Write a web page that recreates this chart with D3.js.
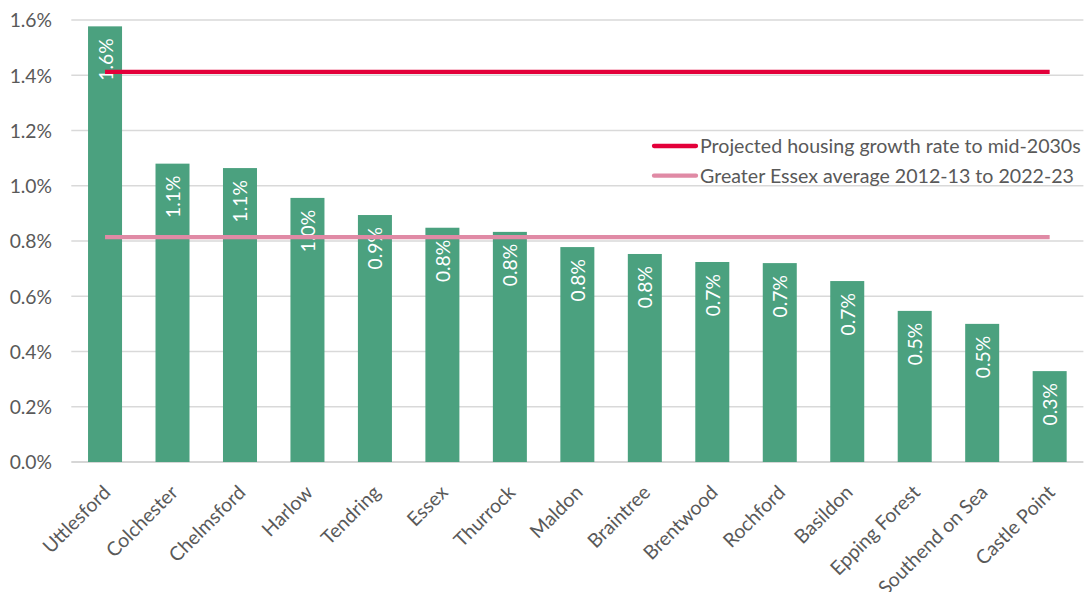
<!DOCTYPE html>
<html><head><meta charset="utf-8">
<script src="https://cdn.jsdelivr.net/npm/d3@7"></script>
<style>body{margin:0;background:#fff;} text{font-family:Lato, "Open Sans", sans-serif;}</style>
</head><body>
<svg id="c" width="1086" height="592"></svg>
<script>
const categories = ["Uttlesford","Colchester","Chelmsford","Harlow","Tendring","Essex","Thurrock","Maldon","Braintree","Brentwood","Rochford","Basildon","Epping Forest","Southend on Sea","Castle Point"];
const growthRates = [1.577,1.080,1.064,0.956,0.894,0.848,0.833,0.778,0.753,0.724,0.720,0.655,0.547,0.500,0.329];
const projectedRate = 1.412;
const essexAverage = 0.814;
const yTicks = [0,0.2,0.4,0.6,0.8,1.0,1.2,1.4,1.6];
const legendLabels = ["Projected housing growth rate to mid-2030s","Greater Essex average 2012-13 to 2022-23"];

(function(){
const svg = d3.select("#c");
const pl = 71.3, pr = 1083.4, pt = 20, pb = 462;
const x = d3.scaleBand().domain(categories).range([pl,pr]).paddingInner(0.496).paddingOuter(0.248);
const y = d3.scaleLinear().domain([0,1.6]).range([pb,pt]);
const txt = "#595959";

// gridlines
svg.append("g").selectAll("line").data(yTicks).join("line")
  .attr("x1",pl).attr("x2",pr).attr("y1",d=>y(d)).attr("y2",d=>y(d))
  .attr("stroke",d=>d===0?"#c8c8c8":"#d9d9d9").attr("stroke-width",1.3);

// y axis labels
const yAxis = d3.axisLeft(y).tickValues(yTicks).tickFormat(d=>d.toFixed(1)+"%").tickSize(0).tickPadding(0);
const ya = svg.append("g").attr("transform",`translate(52,0)`).call(yAxis);
ya.select(".domain").remove();
ya.selectAll("text").attr("fill",txt).style("font-size","19.3px").attr("dy","0.35em").style("font-family","Lato");

// bars
svg.append("g").selectAll("rect").data(categories).join("rect")
  .attr("x",d=>x(d)).attr("width",x.bandwidth())
  .attr("y",(d,i)=>y(growthRates[i])).attr("height",(d,i)=>pb-y(growthRates[i]))
  .attr("fill","#4ba17f");

// value labels
svg.append("g").selectAll("text").data(categories).join("text")
  .attr("transform",(d,i)=>`translate(${x(d)+x.bandwidth()/2+7.5},${y(growthRates[i])+12}) rotate(-90)`)
  .attr("text-anchor","end").attr("fill","#fff").style("font-size","19.3px")
  .text((d,i)=>growthRates[i].toFixed(1)+"%");

// x labels
svg.append("g").selectAll("text").data(categories).join("text")
  .attr("transform",d=>`translate(${x(d)+x.bandwidth()/2-3},${pb+22}) rotate(-45)`)
  .attr("text-anchor","end").attr("fill",txt).style("font-size","19.5px").attr("dy","0.7em")
  .text(d=>d);

// reference lines
const x0 = x(categories[0])+x.bandwidth()/2, x1 = x(categories[categories.length-1])+x.bandwidth()/2;
svg.append("line").attr("x1",x0).attr("x2",x1).attr("y1",y(essexAverage)).attr("y2",y(essexAverage))
  .attr("stroke","#e08aa5").attr("stroke-width",4.3);
svg.append("line").attr("x1",x0).attr("x2",x1).attr("y1",y(projectedRate)).attr("y2",y(projectedRate))
  .attr("stroke","#e3003a").attr("stroke-width",4.3);

// legend
const lg = svg.append("g");
const legColors = ["#e3003a","#e08aa5"];
legendLabels.forEach((l,i)=>{
  const yy = 146 + i*29.7;
  lg.append("line").attr("x1",654).attr("x2",696).attr("y1",yy).attr("y2",yy).attr("stroke",legColors[i]).attr("stroke-width",4.3).attr("stroke-linecap","round");
  lg.append("text").attr("x",700).attr("y",yy).attr("dy","0.35em").attr("fill",txt).style("font-size","19.6px").text(l);
});
})();
</script>
</body></html>
